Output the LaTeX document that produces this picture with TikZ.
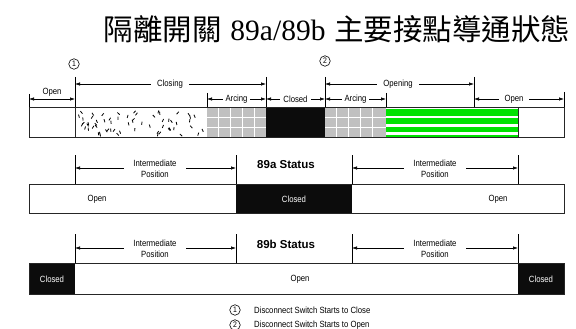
\documentclass[tikz,border=0pt]{standalone}
\usepackage{fontspec}
\usetikzlibrary{arrows.meta}
\newfontfamily\cjkf{Noto Sans CJK TC}
\newfontfamily\serf{Liberation Serif}
\newfontfamily\condf[FakeStretch=0.86]{Liberation Sans}
\newfontfamily\boldsf{Liberation Sans}
\definecolor{grn}{RGB}{0,226,0}
\definecolor{arcgray}{RGB}{192,192,192}
\definecolor{blk}{RGB}{12,12,12}
\begin{document}
\begin{tikzpicture}[x=1pt,y=-1pt,
  lbl/.style={font=\condf\fontsize{9}{10.8}\selectfont, inner sep=1pt},
  gaplbl/.style={lbl, fill=white, inner xsep=6pt},
  widelbl/.style={lbl, fill=white, inner xsep=9pt, align=center},
  wlbl/.style={lbl, text=white},
  dim/.style={line width=0.6pt, {Latex[length=5pt,width=3.4pt]}-{Latex[length=5pt,width=3.4pt]}},
  tick/.style={line width=0.6pt},
  bar/.style={draw=black!85, line width=0.8pt},
  num/.style={circle, draw, line width=0.6pt, minimum size=10.5pt, inner sep=0pt, font=\condf\fontsize{8}{8}\selectfont},
  status/.style={font=\boldsf\bfseries\fontsize{11.5}{12}\selectfont},
]
\useasboundingbox (0,0) rectangle (576,329);

% title
\node[font=\fontsize{29.5}{30}\selectfont, inner sep=0pt] (title) at (337,29)
  {{\cjkf 隔離開關} {\serf 89a/89b} {\cjkf 主要接點導通狀態}};

% ---------- top bar ----------
\fill[arcgray] (207,107) rectangle (266,137);
\fill[arcgray] (325,107) rectangle (386,137);
\foreach \x in {218,230,242,254,336,348,360,372}
  \draw[white, line width=0.8pt] (\x,107) -- (\x,137);
\foreach \y in {117,127}{
  \draw[white, line width=0.8pt] (207,\y) -- (266,\y);
  \draw[white, line width=0.8pt] (325,\y) -- (386,\y);
}
\fill[blk] (266,107) rectangle (325,137);
\fill[grn] (386,107) rectangle (518,137);
\fill[white] (386,107.6) rectangle (518,108.8);
\foreach \y in {117,125.5,133.5}
  \fill[white] (386,\y-1.1) rectangle (518,\y+1.1);
\pgfmathsetseed{7}
\foreach \i in {1,...,62}{
  \pgfmathsetmacro\px{78+126*rnd}
  \pgfmathsetmacro\py{110+24*rnd}
  \pgfmathsetmacro\ang{40+100*rnd}
  \draw[line width=0.8pt] (\px,\py) -- ++({3.2*cos(\ang)},{3.2*sin(\ang)});
}
\draw[bar] (29,107) rectangle (564,137);
\draw[bar] (75,107) -- (75,137);
\draw[bar] (518,107) -- (518,137);

% ticks
\draw[tick] (29,94) -- (29,107);
\draw[tick] (75,77) -- (75,107);
\draw[tick] (207,93) -- (207,107);
\draw[tick] (266,77) -- (266,107);
\draw[tick] (325,77) -- (325,107);
\draw[tick] (386,93) -- (386,107);
\draw[tick] (474,77) -- (474,107);
\draw[tick] (564,92) -- (564,107);

% dimension lines
\coordinate (c1) at (75,84);  \coordinate (c2) at (266,84);
\coordinate (p1) at (325,84); \coordinate (p2) at (474,84);
\coordinate (a1) at (29,99);  \coordinate (a2) at (75,99);
\coordinate (r1) at (207,99); \coordinate (r2) at (266,99);
\coordinate (r3) at (325,99); \coordinate (r4) at (386,99);
\coordinate (q1) at (474,99); \coordinate (q2) at (564,99);
\draw[dim] (c1) -- (c2);
\draw[dim] (p1) -- (p2);
\draw[dim] (a1) -- (a2);
\draw[dim] (r1) -- (r2);
\draw[dim] (r2) -- (r3);
\draw[dim] (r3) -- (r4);
\draw[dim] (q1) -- (q2);
\node[lbl] (lopen1) at (52,92.5) {Open};
\node[gaplbl] (lclosing) at (170,84) {Closing};
\node[gaplbl, inner xsep=3pt] (larc1) at (236.5,99) {Arcing};
\node[gaplbl, inner xsep=3pt] (lclosed) at (295.5,99) {Closed};
\node[gaplbl, inner xsep=3pt] (larc2) at (355.5,99) {Arcing};
\node[gaplbl] (lopening) at (398,84) {Opening};
\node[gaplbl] (lopen2) at (514,99) {Open};

\node[num] (n1) at (74,64) {1};
\node[num] (n2) at (325,61) {2};

% ---------- 89a ----------
\foreach \x in {75,236,352,518}
  \draw[tick] (\x,155) -- (\x,184);
\coordinate (ia1) at (75,168);  \coordinate (ia2) at (236,168);
\coordinate (ia3) at (352,168); \coordinate (ia4) at (518,168);
\draw[dim] (ia1) -- (ia2);
\draw[dim] (ia3) -- (ia4);
\node[widelbl] (ima) at (155,168.5) {Intermediate\\Position};
\node[widelbl] (imb) at (435,168.5) {Intermediate\\Position};
\node[status] (sa) at (286,165) {89a Status};
\fill[blk] (236,184) rectangle (352,213);
\draw[bar] (29,184) rectangle (564,213);
\node[lbl] (aopen1) at (97,199) {Open};
\node[wlbl] (aclosed) at (294,199) {Closed};
\node[lbl] (aopen2) at (498,199) {Open};

% ---------- 89b ----------
\foreach \x in {75,236,352,518}
  \draw[tick] (\x,234) -- (\x,263);
\coordinate (ib1) at (75,248);  \coordinate (ib2) at (236,248);
\coordinate (ib3) at (352,248); \coordinate (ib4) at (518,248);
\draw[dim] (ib1) -- (ib2);
\draw[dim] (ib3) -- (ib4);
\node[widelbl] (imc) at (155,248.5) {Intermediate\\Position};
\node[widelbl] (imd) at (435,248.5) {Intermediate\\Position};
\node[status] (sb) at (286,244) {89b Status};
\fill[blk] (29,263) rectangle (75,294);
\fill[blk] (518,263) rectangle (564,294);
\draw[bar] (29,263) rectangle (564,294);
\node[wlbl] (bclosed1) at (52,279) {Closed};
\node[lbl] (bopen) at (300,279) {Open};
\node[wlbl] (bclosed2) at (541,279) {Closed};

% ---------- legend ----------
\node[num] (l1) at (235,310) {1};
\node[lbl, anchor=west] (t1) at (253,310) {Disconnect Switch Starts to Close};
\node[num] (l2) at (235,325) {2};
\node[lbl, anchor=west] (t2) at (253,325) {Disconnect Switch Starts to Open};
\end{tikzpicture}
\end{document}
